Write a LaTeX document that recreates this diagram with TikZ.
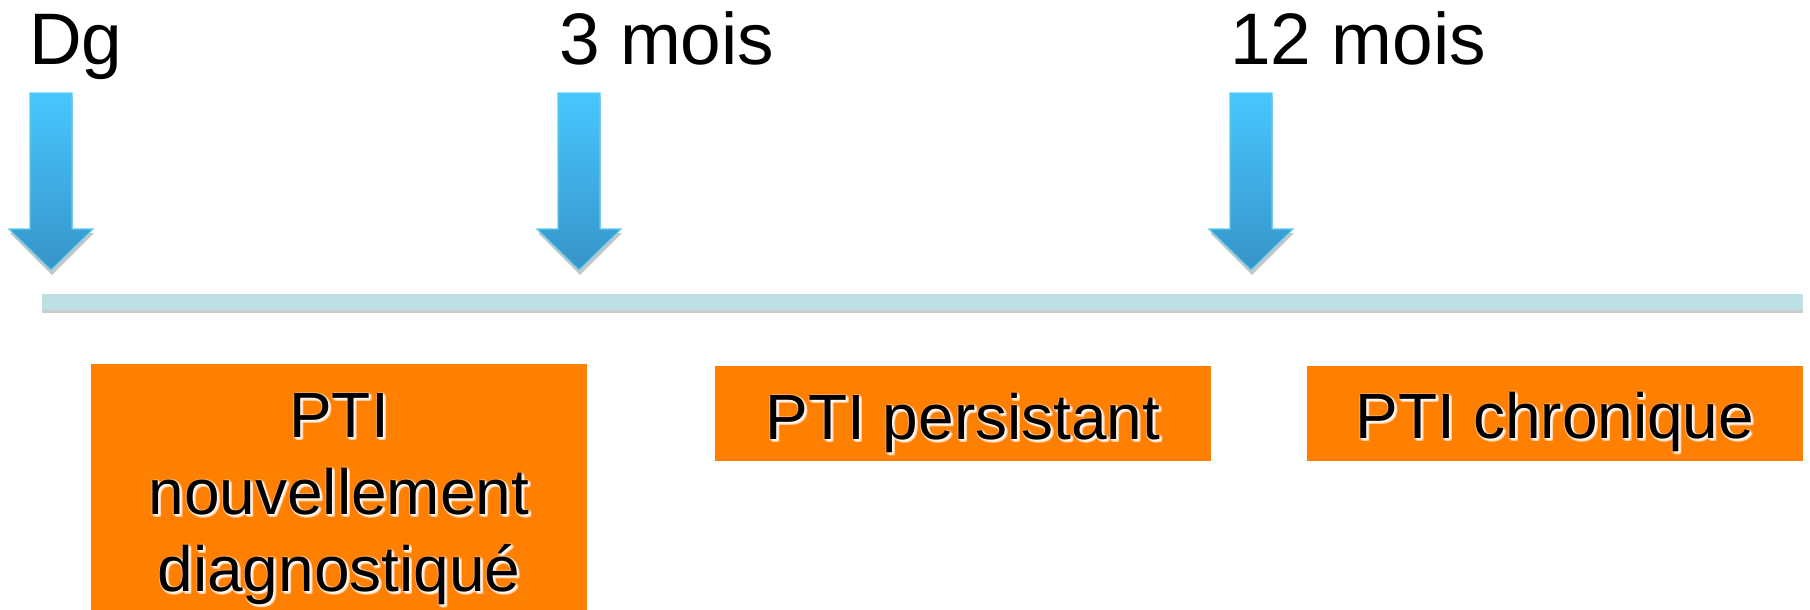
\documentclass[tikz,border=0pt]{standalone}
\usepackage{fontspec}
\setmainfont{Liberation Sans}
\definecolor{arrowtop}{RGB}{72,198,255}
\definecolor{arrowbot}{RGB}{54,148,199}
\definecolor{arrowrim}{RGB}{96,204,245}
\definecolor{axisfill}{RGB}{188,224,227}
\definecolor{phasefill}{RGB}{255,128,0}
\tikzset{
  x=1pt, y=-1pt,
  ticklabel/.style={inner sep=0pt, anchor=base west, font=\fontsize{73}{88}\selectfont},
  phasebox/.style={fill=phasefill, draw=none, inner sep=0pt, anchor=north west},
  phaselabel/.style={inner sep=0pt, anchor=base, align=center, font=\fontsize{64}{77}\selectfont},
  marker/.style={top color=arrowtop, bottom color=arrowbot, draw=arrowrim, line width=1.2pt, line join=miter},
  markershadow/.style={fill=black!22, draw=none},
}
% down arrow marking a time point; #1 = centre x
\newcommand\timemarker[1]{%
  \fill[markershadow] (#1-20,97) -- (#1+22,97) -- (#1+22,233) -- (#1+43,233)
    -- (#1+1,275) -- (#1-41,233) -- (#1-20,233) -- cycle;
  \path[marker] (#1-21,93) -- (#1+21,93) -- (#1+21,229) -- (#1+42,229)
    -- (#1,270) -- (#1-42,229) -- (#1-21,229) -- cycle;}
% phase label with a soft white halo; #1 name, #2 position (last baseline), #3 text
\newcommand\phasetext[3]{%
  \foreach \dx/\dy in {1/1,2/2,3/3,2/3,3/2,0/2,2/0,1/3,3/1,-1/1,1/-1}
    \node[phaselabel, text=white, opacity=0.3] at ([shift={(\dx,\dy)}]#2) {#3};
  \node[phaselabel] (#1) at (#2) {#3};}
\begin{document}
\begin{tikzpicture}
\useasboundingbox (0,0) rectangle (1810,610);
\fill[white] (0,0) rectangle (1810,610);

% time axis
\fill[black!20] (42,298) rectangle (1803,313);
\fill[axisfill] (42,294) rectangle (1803,310);

% time points
\timemarker{51}
\timemarker{579}
\timemarker{1251}

\node[ticklabel] (dg) at (29,65) {Dg};
\node[ticklabel] (m3) at (559,65) {3 mois};
\node[ticklabel] (m12) at (1230,65) {12 mois};

% phases
\node[phasebox, minimum width=496pt, minimum height=246pt] (p1) at (91,364) {};
\node[phasebox, minimum width=496pt, minimum height=95pt] (p2) at (715,366) {};
\node[phasebox, minimum width=496pt, minimum height=95pt] (p3) at (1307,366) {};

\phasetext{t1}{339,591}{PTI\\nouvellement\\diagnostiqué}
\phasetext{t2}{963,439}{PTI persistant}
\phasetext{t3}{1555,438}{PTI chronique}
\end{tikzpicture}
\end{document}
